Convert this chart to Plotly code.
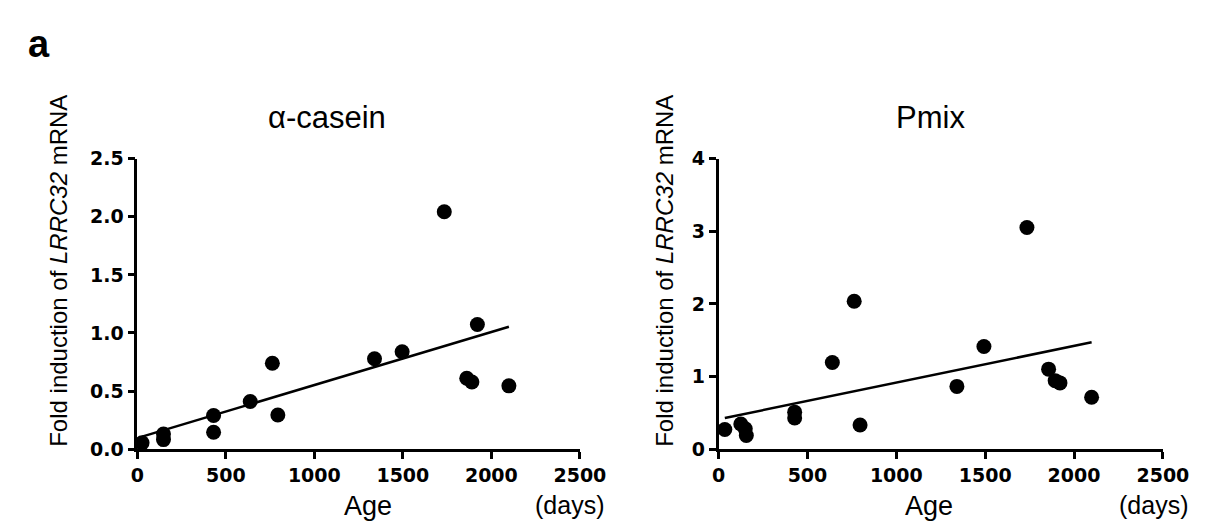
import numpy as np
import plotly.graph_objects as go

# ---- data ----
casein_age = [27, 148, 148, 431, 431, 638, 763, 794, 1340, 1496, 1734, 1861, 1890, 1921, 2099]
casein_fold = [0.055, 0.13, 0.083, 0.29, 0.146, 0.41, 0.74, 0.294, 0.778, 0.839, 2.043, 0.61, 0.578, 1.073, 0.545]

pmix_age = [35, 125, 150, 156, 428, 428, 640, 763, 796, 1341, 1493, 1735, 1857, 1894, 1921, 2099]
pmix_fold = [0.272, 0.347, 0.281, 0.189, 0.51, 0.43, 1.194, 2.037, 0.334, 0.865, 1.414, 3.052, 1.102, 0.944, 0.913, 0.716]

panel_titles = ["α-casein", "Pmix"]
x_ticks = [0, 500, 1000, 1500, 2000, 2500]
casein_yticks = [0.0, 0.5, 1.0, 1.5, 2.0, 2.5]
pmix_yticks = [0, 1, 2, 3, 4]
y_title = "Fold induction of <i>LRRC32</i> mRNA"
x_title = "Age"
x_unit = "(days)"
panel_label = "a"

W, H = 1212, 526


def px_x(p):
    return p / W


def px_y(p):
    return 1 - p / H


fig = go.Figure()

panels = [
    (casein_age, casein_fold, "x", "y"),
    (pmix_age, pmix_fold, "x2", "y2"),
]

for ages, folds, xa, ya in panels:
    a = np.array(ages, dtype=float)
    f = np.array(folds, dtype=float)
    slope, icpt = np.polyfit(a, f, 1)
    xs = np.array([a.min(), a.max()])
    fig.add_trace(go.Scatter(x=xs, y=slope * xs + icpt, mode="lines",
                             line=dict(color="black", width=2.5),
                             xaxis=xa, yaxis=ya, showlegend=False, hoverinfo="skip"))
    fig.add_trace(go.Scatter(x=ages, y=folds, mode="markers",
                             marker=dict(color="black", size=15),
                             xaxis=xa, yaxis=ya, showlegend=False, cliponaxis=False))

tickfont = dict(family="DejaVu Sans", size=19, color="black", weight="bold")
common_x = dict(range=[0, 2500], tickvals=x_ticks, showline=True, linewidth=2.5,
                linecolor="black", ticks="outside", ticklen=7, tickwidth=2.5,
                tickcolor="black", showgrid=False, zeroline=False, tickfont=tickfont)
common_y = dict(showline=True, linewidth=2.5, linecolor="black", ticks="outside",
                ticklen=7, tickwidth=2.5, tickcolor="black", showgrid=False,
                zeroline=False, tickfont=tickfont)

ydom = [px_y(449), px_y(145.7)]
fig.update_layout(
    width=W, height=H, autosize=False,
    margin=dict(l=0, r=0, t=0, b=0),
    paper_bgcolor="white", plot_bgcolor="white",
    xaxis=dict(domain=[px_x(125.7), px_x(580.7)], anchor="y", **common_x),
    yaxis=dict(domain=ydom, anchor="x", range=[0, 2.5], tickvals=casein_yticks,
               tickformat=".1f", **common_y),
    xaxis2=dict(domain=[px_x(723.3), px_x(1180)], anchor="y2", **common_x),
    yaxis2=dict(domain=ydom, anchor="x2", range=[0, 4], tickvals=pmix_yticks,
                tickformat="d", **common_y),
)

ann_font = dict(family="Liberation Sans, Arial", color="black")
annotations = [
    dict(text=panel_label, x=px_x(25), y=px_y(26), font=dict(size=38, weight="bold", **ann_font)),
    dict(text=panel_titles[0], x=px_x(321), y=px_y(103), font=dict(size=31, **ann_font)),
    dict(text=panel_titles[1], x=px_x(941), y=px_y(103), font=dict(size=31, **ann_font)),
    dict(text=y_title, x=px_x(44), y=px_y(263), textangle=-90, font=dict(size=24, **ann_font)),
    dict(text=y_title, x=px_x(667), y=px_y(263), textangle=-90, font=dict(size=24, **ann_font)),
    dict(text=x_title, x=px_x(363), y=px_y(508), font=dict(size=27, **ann_font)),
    dict(text=x_title, x=px_x(940), y=px_y(508), font=dict(size=27, **ann_font)),
    dict(text=x_unit, x=px_x(570), y=px_y(507), font=dict(size=25, **ann_font)),
    dict(text=x_unit, x=px_x(1170), y=px_y(507), font=dict(size=25, **ann_font)),
]
for a in annotations:
    a.update(xref="paper", yref="paper", showarrow=False, xanchor="center", yanchor="middle")
fig.update_layout(annotations=annotations)

fig.write_html("out.html")
